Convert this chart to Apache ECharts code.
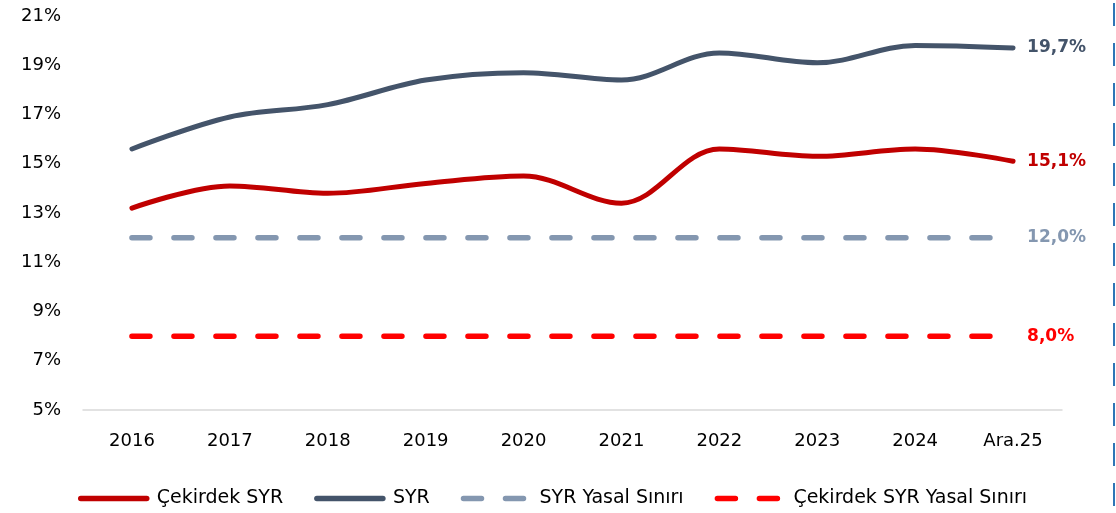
<!DOCTYPE html>
<html>
<head>
<meta charset="utf-8">
<script src="https://cdn.jsdelivr.net/npm/echarts@6/dist/echarts.min.js"></script>
<style>
  html, body { margin: 0; padding: 0; background: #fff; }
  #chart { width: 1116px; height: 513px; }
</style>
</head>
<body>
<div id="chart"></div>
<script>
// Categories and series values (in %)
const years = ['2016', '2017', '2018', '2019', '2020', '2021', '2022', '2023', '2024', 'Ara.25'];
const cekirdekSyr = [13.2, 14.1, 13.8, 14.2, 14.5, 13.4, 15.6, 15.3, 15.6, 15.1];
const syr = [15.6, 16.9, 17.4, 18.4, 18.7, 18.4, 19.5, 19.1, 19.8, 19.7];
const syrYasal = [12, 12, 12, 12, 12, 12, 12, 12, 12, 12];
const cekirdekYasal = [8, 8, 8, 8, 8, 8, 8, 8, 8, 8];

const seriesNames = ['Çekirdek SYR', 'SYR', 'SYR Yasal Sınırı', 'Çekirdek SYR Yasal Sınırı'];
const colors = ['#C00000', '#44546A', '#8497B0', '#FF0000'];

const font = 'DejaVu Sans';
const dashPattern = [18, 24];

const chart = echarts.init(document.getElementById('chart'));

function lineSeries(name, data, color, dashed) {
    return {
        name: name,
        type: 'line',
        data: data,
        smooth: dashed ? false : 0.35,
        symbol: 'none',
        lineStyle: {
            color: color,
            width: dashed ? 5.5 : 5,
            type: dashed ? dashPattern : 'solid',
            cap: 'round'
        },
        itemStyle: { color: color },
        endLabel: {
            show: true,
            distance: 14,
            color: color,
            fontFamily: font,
            fontWeight: 'bold',
            fontSize: 17,
            formatter: p => p.value.toFixed(1).replace('.', ',') + '%'
        }
    };
}

chart.setOption({
    animation: false,
    grid: { left: 83, right: 54, top: 16, bottom: 103 },
    xAxis: {
        type: 'category',
        data: years,
        boundaryGap: true,
        axisLine: { lineStyle: { color: '#D9D9D9', width: 1.5 } },
        axisTick: { show: false },
        axisLabel: { color: '#000', fontFamily: font, fontSize: 18, margin: 22 }
    },
    yAxis: {
        type: 'value',
        min: 5,
        max: 21,
        interval: 2,
        splitLine: { show: false },
        axisLine: { show: false },
        axisTick: { show: false },
        axisLabel: {
            color: '#000',
            fontFamily: font,
            fontSize: 18,
            margin: 22,
            formatter: '{value}%'
        }
    },
    legend: {
        left: 73,
        top: 484,
        itemWidth: 66,
        itemHeight: 12,
        itemGap: 31,
        textStyle: { color: '#000', fontFamily: font, fontSize: 19, padding: [0, 0, 0, 5] },
        data: seriesNames.map((n, i) => ({
            name: n,
            itemStyle: { opacity: 0 },
            lineStyle: {
                width: 5.5,
                cap: 'round',
                type: i >= 2 ? dashPattern : 'solid'
            }
        }))
    },
    graphic: [{
        type: 'line',
        shape: { x1: 1114, y1: 3, x2: 1114, y2: 513 },
        style: { stroke: '#2E75B6', lineWidth: 2, lineDash: [23, 17] },
        silent: true
    }],
    series: [
        lineSeries(seriesNames[0], cekirdekSyr, colors[0], false),
        lineSeries(seriesNames[1], syr, colors[1], false),
        lineSeries(seriesNames[2], syrYasal, colors[2], true),
        lineSeries(seriesNames[3], cekirdekYasal, colors[3], true)
    ]
});

window.addEventListener('resize', () => chart.resize());
</script>
</body>
</html>
